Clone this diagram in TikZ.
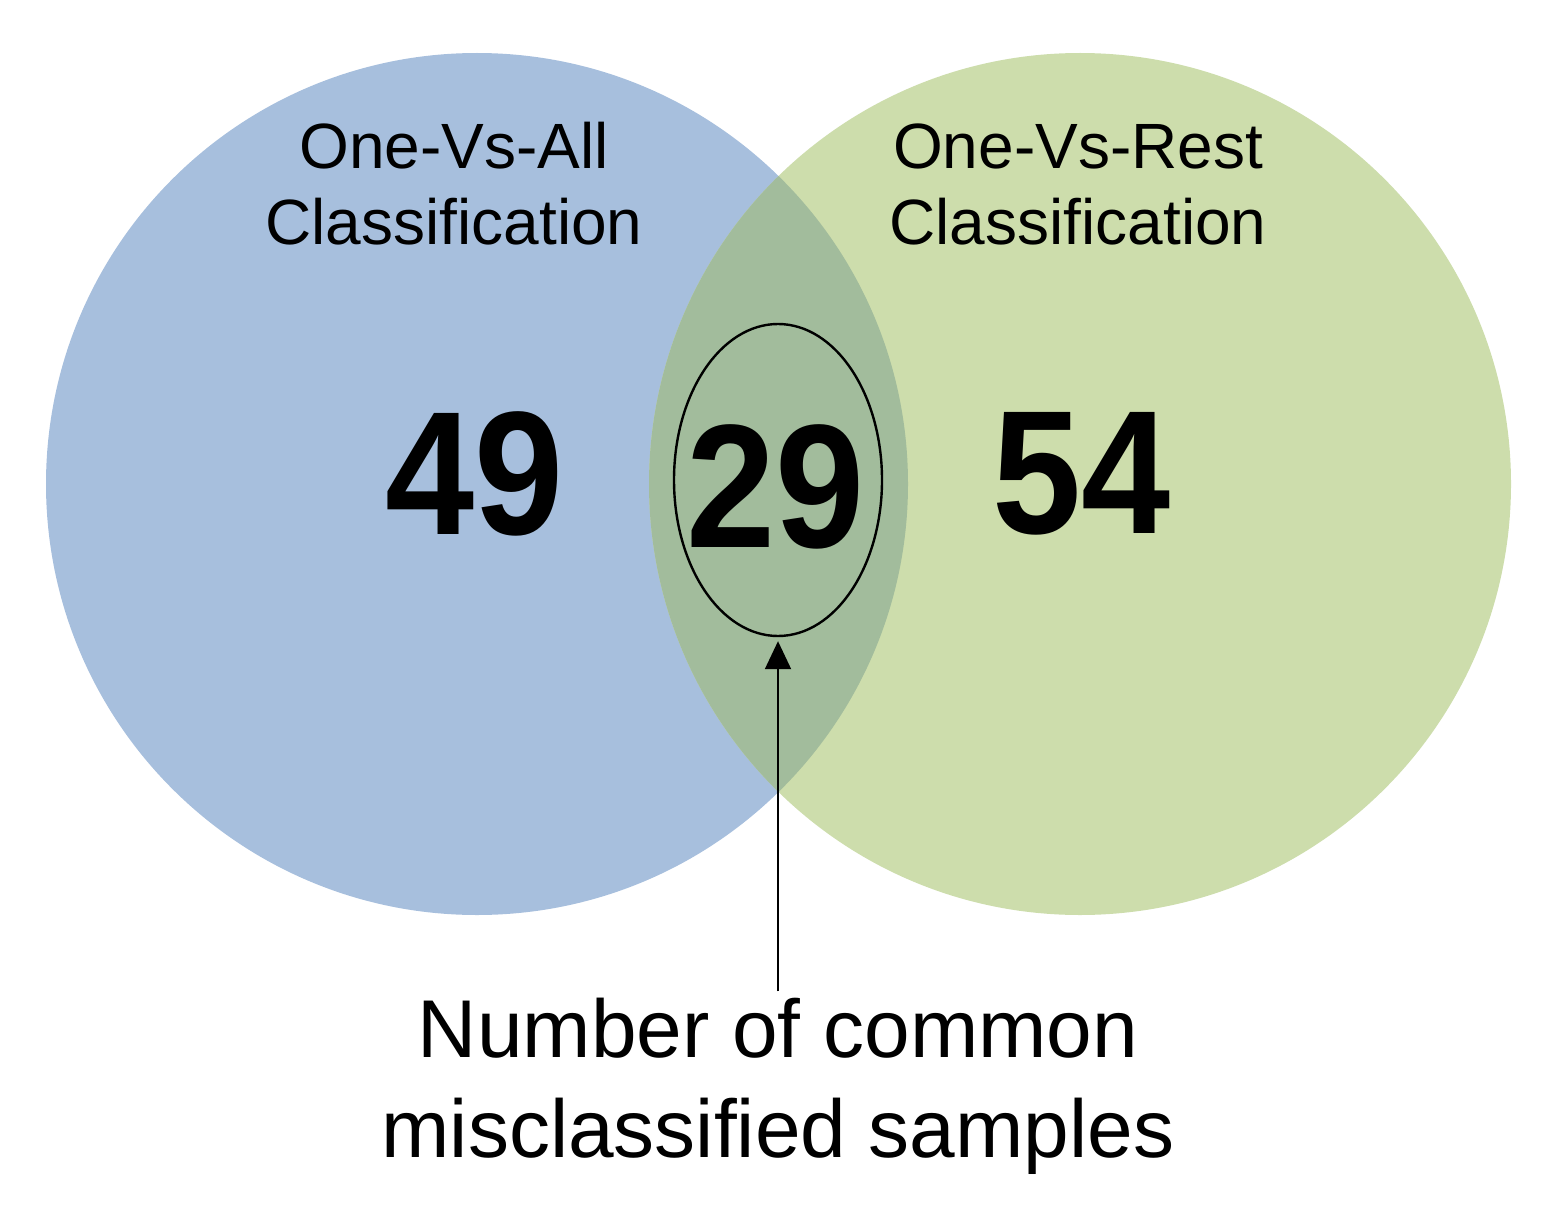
\documentclass[tikz,border=0pt]{standalone}
\usepackage{fontspec}
\setmainfont{Liberation Sans}
\usetikzlibrary{arrows.meta, positioning, shapes.geometric}

\definecolor{setblue}{RGB}{167,191,221}
\definecolor{setgreen}{RGB}{205,221,172}
\definecolor{setboth}{RGB}{162,188,156}
\newcommand{\narrow}[1]{\scalebox{0.91}[1]{#1}}

\begin{document}
\begin{tikzpicture}[
    x=0.5pt, y=-0.5pt,
    setlbl/.style={font=\fontsize{32}{38}\selectfont, align=center, inner sep=0pt},
    cnt/.style={font=\bfseries\fontsize{88}{90}\selectfont, inner sep=0pt},
    ring/.style={ellipse, draw=black, line width=1.2pt, minimum width=104pt, minimum height=156pt, inner sep=0pt},
    arr/.style={-{Triangle[length=14pt, width=13pt]}, line width=1pt}
]
\useasboundingbox (0,0) rectangle (1556,1225);
% Two sets: one-vs-all (left) and one-vs-rest (right)
\fill[setblue]  (477,484)  circle[radius=215.5pt];
\fill[setgreen] (1080,484) circle[radius=215.5pt];
% Shared region
\begin{scope}
  \clip (477,484) circle[radius=215.5pt];
  \fill[setboth] (1080,484) circle[radius=215.5pt];
\end{scope}
% Set names
\node[setlbl] (ova) at (454,184)  {One-Vs-All\\Classification};
\node[setlbl] (ovr) at (1078,184) {One-Vs-Rest\\Classification};
% Counts
\node[cnt] (n49) at (475,474)  {\narrow{49}};
\node[cnt] (n29) at (776,487)  {\narrow{29}};
\node[cnt] (n54) at (1082,474) {\narrow{54}};
\node[ring] (common) at (778,480) {};
% Note with arrow to the shared count
\node[font=\fontsize{41}{50}\selectfont, align=center, inner sep=0pt] (note) at (778,1086)
    {Number of common\\misclassified samples};
\draw[arr, shorten >=2pt] (note.north) ++(0,-6) coordinate (tail) (tail) -- (common.south);
\end{tikzpicture}
\end{document}
